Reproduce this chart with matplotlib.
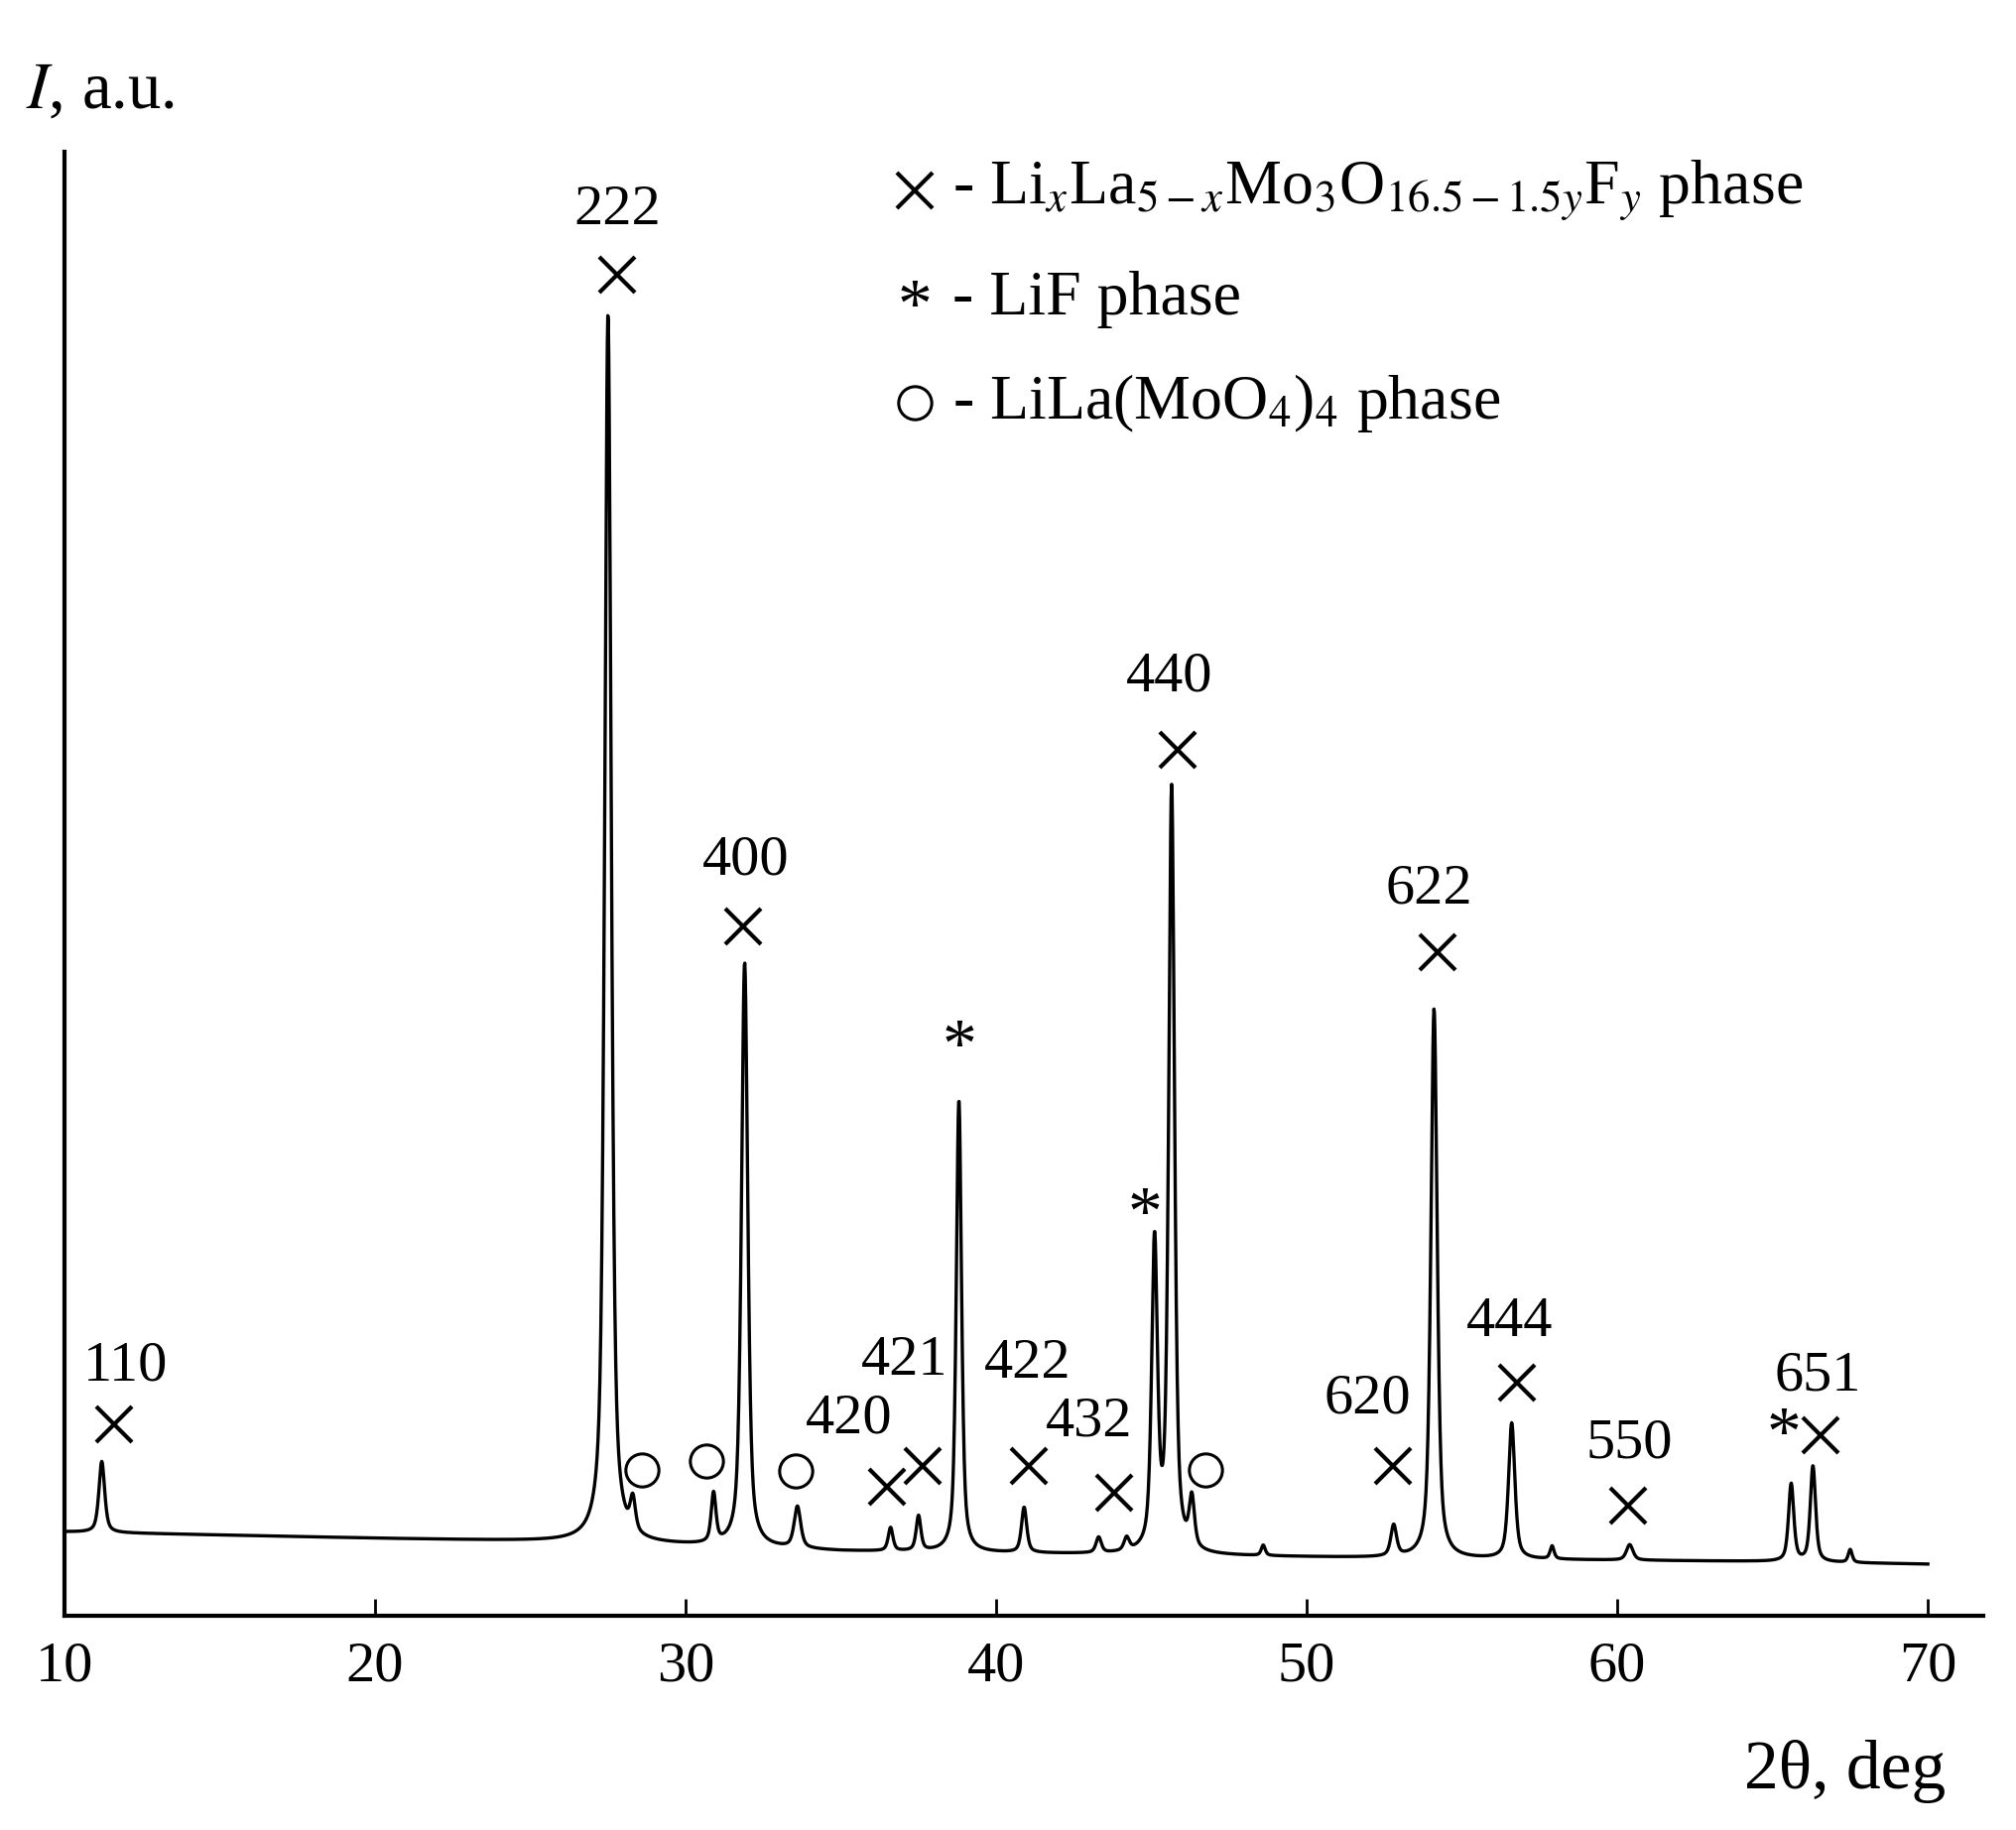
import numpy as np
import matplotlib
matplotlib.use("Agg")
import matplotlib.pyplot as plt

plt.rcParams['font.family'] = ['Liberation Serif', 'DejaVu Serif']
plt.rcParams['mathtext.fontset'] = 'stix'

# Peak list: position (deg), height above baseline (a.u.), FWHM (deg)
peak_pos = [11.2, 27.5, 28.3, 30.9, 31.9, 33.6, 36.6, 37.5, 38.8, 40.9, 43.3, 44.2,
            45.1, 45.65, 46.3, 48.6, 52.8, 54.1, 56.6, 57.9, 60.4, 65.6, 66.3, 67.5]
peak_h = [55, 950, 25, 38, 452, 32, 18, 27, 350, 35, 12, 10,
          237, 590, 38, 8, 24, 425, 105, 10, 12, 60, 74, 10]
peak_w = [0.22, 0.25, 0.2, 0.18, 0.24, 0.25, 0.18, 0.18, 0.2, 0.2, 0.2, 0.2,
          0.22, 0.22, 0.2, 0.15, 0.22, 0.24, 0.24, 0.15, 0.25, 0.2, 0.2, 0.15]
# baseline read at a few angles
base_x = [10, 20, 27, 35, 45, 55, 65, 70]
base_y = [65, 60, 57, 50, 47, 44, 42, 40]

x = np.linspace(10, 70, 4000)
y = np.interp(x, base_x, base_y)
for p, h, w in zip(peak_pos, peak_h, peak_w):
    g = w / 2
    y = y + h * (0.6 * g**2 / ((x - p)**2 + g**2) + 0.4 * np.exp(-np.log(2) * ((x - p) / g)**2))

# annotations
hkl_labels = ["110", "222", "400", "420", "421", "422", "432", "440", "620", "622", "444", "550", "651"]
hkl_x = [11.96, 27.8, 31.93, 35.26, 37.05, 41.0, 43.0, 45.58, 51.95, 53.95, 56.52, 60.4, 66.47]
hkl_y = [193, 1087, 584, 152, 197, 195, 150, 726, 168, 562, 227, 133, 185]
cross_x = [11.6, 27.8, 31.85, 36.47, 37.63, 41.04, 43.79, 45.83, 52.78, 54.2, 56.77, 60.35, 66.55]
cross_y = [148, 1037, 533, 100, 116, 116, 95, 670, 116, 513, 180, 85, 140]
star_x = [38.8, 44.79, 65.35]
star_y = [438, 308, 138]
circ_x = [28.6, 30.68, 33.55, 46.75]
circ_y = [113, 120, 112, 113]

fig = plt.figure(figsize=(20.32, 18.45), dpi=100)
ax = fig.add_axes([0.032, 0.117, 0.952, 0.8])
ax.plot(x, y, color='black', lw=2.4)
ax.set_xlim(10, 71.8)
ax.set_ylim(0, 1132)
for s in ['top', 'right']:
    ax.spines[s].set_visible(False)
for s in ['left', 'bottom']:
    ax.spines[s].set_linewidth(3)
ax.set_yticks([])
ax.set_xticks([10, 20, 30, 40, 50, 60, 70])
ax.tick_params(axis='x', direction='in', length=12, width=2, labelsize=42, pad=18)

for t, tx, ty in zip(hkl_labels, hkl_x, hkl_y):
    ax.text(tx, ty, t, fontsize=42, ha='center', va='center')
ax.plot(cross_x, cross_y, 'x', color='black', ms=26, mew=3)
for sx, sy in zip(star_x, star_y):
    ax.text(sx, sy, '*', fontsize=50, ha='center', va='center')
ax.plot(circ_x, circ_y, 'o', mfc='none', mec='black', ms=24, mew=2.2)

# legend
ax.plot([37.38], [1102], 'x', color='black', ms=26, mew=3)
ax.text(37.38, 1010, '*', fontsize=50, ha='center', va='center')
ax.plot([37.38], [938], 'o', mfc='none', mec='black', ms=24, mew=2.2)
ax.text(38.6, 1102, r"- Li$_x$La$_{5-x}$Mo$_3$O$_{16.5-1.5y}$F$_y$ phase", fontsize=46, va='center')
ax.text(38.6, 1018, "- LiF phase", fontsize=46, va='center')
ax.text(38.6, 938, r"- LiLa(MoO$_4$)$_4$ phase", fontsize=46, va='center')

fig.text(0.013, 0.95, r"$I$, a.u.", fontsize=48, va='center')
fig.text(0.965, 0.032, "2θ, deg", fontsize=50, ha='right', va='center')

fig.savefig("out.png", dpi=100)
